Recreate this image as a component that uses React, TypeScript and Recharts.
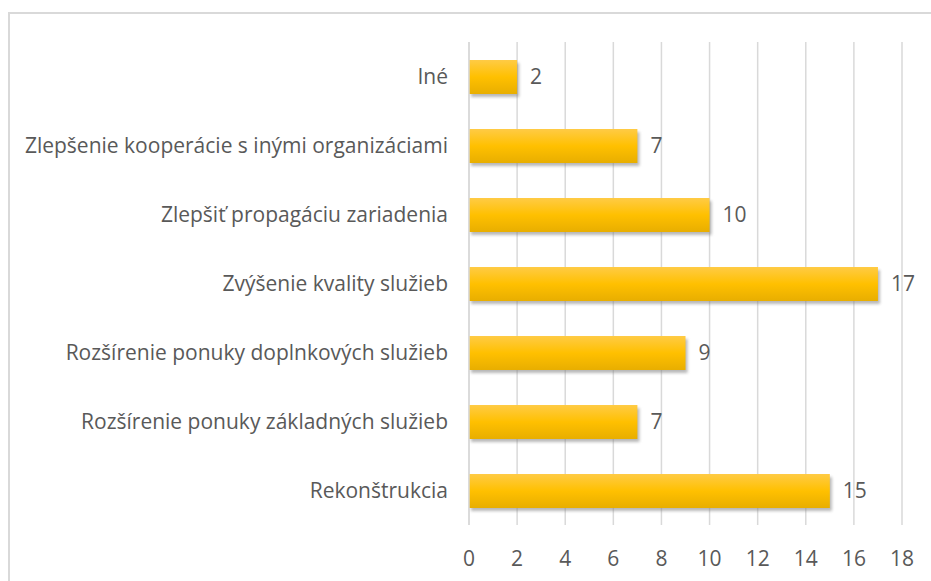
import React from "react"
import {
  BarChart,
  Bar,
  XAxis,
  YAxis,
  CartesianGrid,
  LabelList,
} from "recharts"

const categories = [
  "Iné",
  "Zlepšenie kooperácie s inými organizáciami",
  "Zlepšiť propagáciu zariadenia",
  "Zvýšenie kvality služieb",
  "Rozšírenie ponuky doplnkových služieb",
  "Rozšírenie ponuky základných služieb",
  "Rekonštrukcia",
]
const counts = [2, 7, 10, 17, 9, 7, 15]
const xTicks = [0, 2, 4, 6, 8, 10, 12, 14, 16, 18]

const data = categories.map((name, i) => ({ name, value: counts[i] }))

const FONT = "'Open Sans', sans-serif"
const TEXT = "#595959"
const FS = 21

// bar with a soft grey drop shadow, like the office 3d-ish style
const ShadowBar = (props: any) => {
  const { x, y, width, height } = props
  if (!width || width <= 0) return null
  return (
    <g>
      <rect
        x={x + 2}
        y={y + 3}
        width={width}
        height={height}
        fill="#7f7f7f"
        opacity={0.55}
        filter="url(#blurShadow)"
      />
      <rect x={x} y={y} width={width} height={height} fill="url(#barFill)" />
    </g>
  )
}

export default function App() {
  return (
    <div
      style={{
        position: "absolute",
        left: 0,
        top: 0,
        width: 931,
        height: 581,
        background: "#fff",
        fontFamily: FONT,
        overflow: "hidden",
      }}
    >
      <div
        style={{
          position: "absolute",
          left: 8,
          top: 12,
          width: 940,
          height: 600,
          border: "2px solid #d9d9d9",
          boxSizing: "border-box",
        }}
      />
      <BarChart
        width={931}
        height={581}
        data={data}
        layout="vertical"
        barSize={34}
        margin={{ top: 42, right: 29, bottom: 26, left: 0 }}
        style={{ position: "absolute", left: 0, top: 0 }}
      >
        <defs>
          <linearGradient id="barFill" x1="0" y1="0" x2="0" y2="1">
            <stop offset="0%" stopColor="#ffcb45" />
            <stop offset="50%" stopColor="#ffc000" />
            <stop offset="100%" stopColor="#e8ae00" />
          </linearGradient>
          <filter id="blurShadow" x="-5%" y="-20%" width="110%" height="140%">
            <feGaussianBlur stdDeviation="1.5" />
          </filter>
        </defs>
        <CartesianGrid
          horizontal={false}
          stroke="#d9d9d9"
          strokeWidth={1.5}
        />
        <XAxis
          type="number"
          domain={[0, 18]}
          ticks={xTicks}
          height={30}
          axisLine={false}
          tickLine={false}
          tickSize={0}
          tickMargin={26}
          tick={{ fill: TEXT, fontSize: FS, fontFamily: FONT }}
        />
        <YAxis
          type="category"
          dataKey="name"
          width={469}
          axisLine={{ stroke: "#d9d9d9", strokeWidth: 1.5 }}
          tickLine={false}
          tickSize={0}
          tickMargin={21}
          interval={0}
          tick={{ fill: TEXT, fontSize: FS, fontFamily: FONT }}
        />
        <Bar dataKey="value" shape={ShadowBar} isAnimationActive={false}>
          <LabelList
            dataKey="value"
            position="right"
            offset={13}
            fill={TEXT}
            fontSize={FS}
            fontFamily={FONT}
          />
        </Bar>
      </BarChart>
    </div>
  )
}
